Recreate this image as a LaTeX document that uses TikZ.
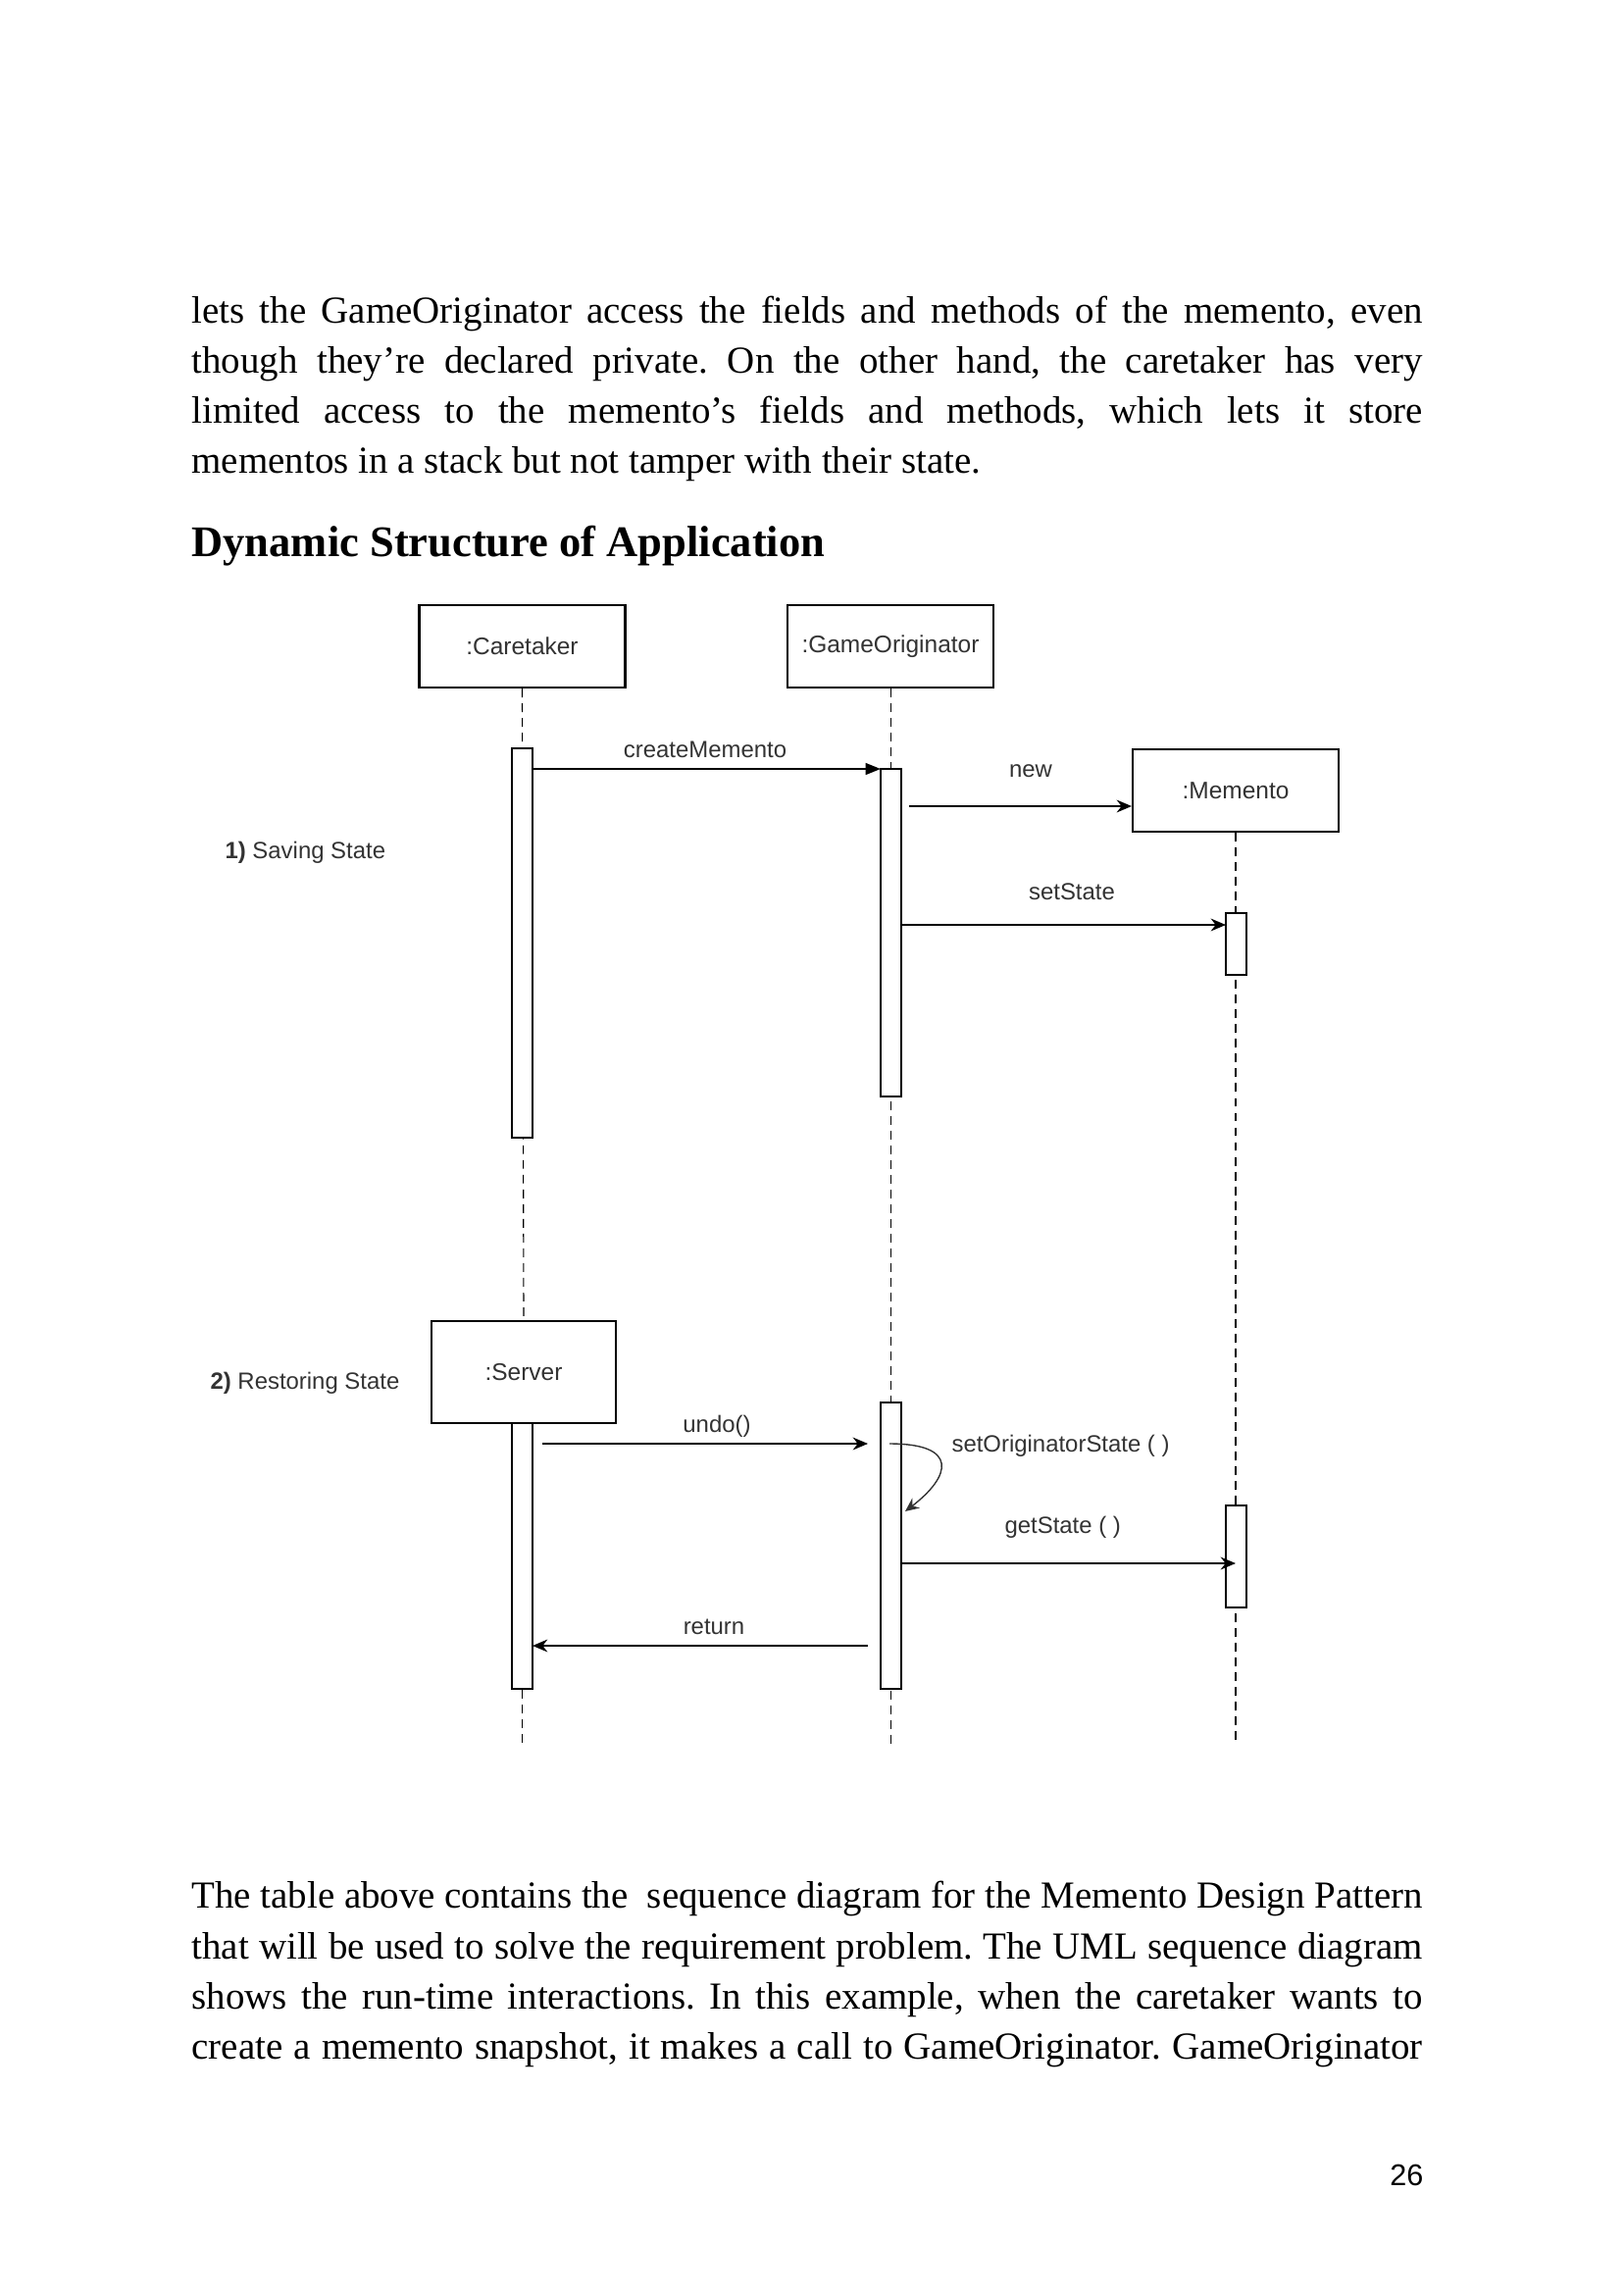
\documentclass[tikz,border=0pt]{standalone}
\usepackage{fontspec}
\setmainfont{Liberation Serif}
\newfontfamily\arialf{Liberation Sans}
\usetikzlibrary{arrows.meta}
\def\pxu{0.35948pt}
\definecolor{lblc}{HTML}{333333}
\frenchspacing
\begin{document}
\begin{tikzpicture}[x=0.35948pt,y=-0.35948pt,
  obj/.style={draw, line width=0.8pt, fill=white, minimum width=210*\pxu, minimum height=84*\pxu, inner sep=0pt, font=\arialf\fontsize{8.8}{10}\selectfont, text=lblc},
  actbar/.style={draw, line width=0.7pt, fill=white, minimum width=21*\pxu, inner sep=0pt},
  life/.style={line width=0.4pt, dash pattern=on 3.2pt off 2.2pt},
  msg/.style={line width=0.75pt, -{Stealth[length=5.5pt,width=4.6pt]}},
  blockmsg/.style={line width=0.75pt, -{Triangle[length=5.5pt,width=4.2pt]}},
  selfmsg/.style={line width=0.5pt, draw=lblc, -{Stealth[length=5pt,width=4.5pt]}},
  lbl/.style={font=\arialf\fontsize{8.6}{10}\selectfont, text=lblc, inner sep=0pt, anchor=base},
  body/.style={anchor=base west, inner sep=0pt, font=\fontsize{14}{17}\selectfont},
]
\useasboundingbox (0,0) rectangle (1656,2339);

% top paragraph
\node[body] (p1) at (195,329) {\makebox[451.2pt][s]{lets the GameOriginator access the fields and methods of the memento, even}};
\node[body] (p2) at (195,380) {\makebox[451.2pt][s]{though they’re declared private. On the other hand, the caretaker has very}};
\node[body] (p3) at (195,431) {\makebox[451.2pt][s]{limited access to the memento’s fields and methods, which lets it store}};
\node[body] (p4) at (195,482) {mementos in a stack but not tamper with their state.};

\node[anchor=base west, inner sep=0pt, font=\bfseries\fontsize{16}{19}\selectfont] (head) at (195,567) {Dynamic Structure of Application};

% lifelines
\coordinate (careend) at (532.5,1783);
\coordinate (origend) at (908.5,1783);
\coordinate (memend) at (1260,1780);

\node[obj] (care) at (532.5,659) {:Caretaker};
\node[obj] (orig) at (908,659) {:GameOriginator};
\node[obj] (mem) at (1260,806) {:Memento};
\node[obj, minimum width=188*\pxu, minimum height=104*\pxu] (serv) at (534,1399) {:Server};

\draw[life] (care.south) -- (serv.north);
\draw[life] (orig.south -| origend) -- (origend);
\draw[life] (mem.south) -- (memend);

% activations
\node[actbar, minimum height=397*\pxu] (c1) at (532.5,961.5) {};
\node[actbar, minimum height=334*\pxu] (g1) at (908.5,951) {};
\node[actbar, minimum height=63*\pxu] (m1) at (1260.5,962.5) {};
\node[actbar, minimum height=271*\pxu] (s1) at (532.5,1586.5) {};
\node[actbar, minimum height=292*\pxu] (g2) at (908.5,1576) {};
\node[actbar, minimum height=104*\pxu] (m2) at (1260.5,1587) {};
\draw[life] (s1.south) -- (careend);

% message end points
\coordinate (cmA) at (543,784);   \coordinate (cmB) at (898,784);
\coordinate (nwA) at (927,822);   \coordinate (nwB) at (1154,822);
\coordinate (ssA) at (919,943);   \coordinate (ssB) at (1250,943);
\coordinate (unA) at (553,1472);  \coordinate (unB) at (885,1472);
\coordinate (scA) at (907,1472);  \coordinate (scB) at (923,1541);
\coordinate (gsA) at (919,1594);  \coordinate (gsB) at (1260,1594);
\coordinate (rtA) at (885,1678);  \coordinate (rtB) at (543,1678);

\draw[blockmsg] (cmA) -- (cmB);
\draw[msg] (nwA) -- (nwB);
\draw[msg] (ssA) -- (ssB);
\draw[msg] (unA) -- (unB);
\draw[selfmsg] (scA) .. controls (978,1472) and (970,1505) .. (scB);
\draw[msg] (gsA) -- (gsB);
\draw[msg] (rtA) -- (rtB);

% labels
\node[lbl] (lcm) at (719,772) {createMemento};
\node[lbl] (lnw) at (1051,792) {new};
\node[lbl] (lss) at (1093,917) {setState};
\node[lbl, anchor=base west] (lsave) at (229,875) {\bfseries 1)\mdseries{} Saving State};
\node[lbl, anchor=base west] (lrest) at (214,1416) {\bfseries 2)\mdseries{} Restoring State};
\node[lbl] (lun) at (731,1460) {undo()};
\node[lbl, anchor=base west] (lso) at (970,1480) {setOriginatorState ( )};
\node[lbl, anchor=base west] (lgs) at (1024,1563) {getState ( )};
\node[lbl] (lrt) at (728,1666) {return};

% bottom paragraph
\node[body] (q1) at (195,1945) {\makebox[451.2pt][s]{The table above contains the \ sequence diagram for the Memento Design Pattern}};
\node[body] (q2) at (195,1997) {\makebox[451.2pt][s]{that will be used to solve the requirement problem. The UML sequence diagram}};
\node[body] (q3) at (195,2048) {\makebox[451.2pt][s]{shows the run-time interactions. In this example, when the caretaker wants to}};
\node[body] (q4) at (195,2099) {\makebox[451.2pt][s]{create a memento snapshot, it makes a call to GameOriginator. GameOriginator}};

\node[anchor=base east, inner sep=0pt, font=\arialf\fontsize{11}{13}\selectfont] (pg) at (1452,2228) {26};
\end{tikzpicture}
\end{document}
